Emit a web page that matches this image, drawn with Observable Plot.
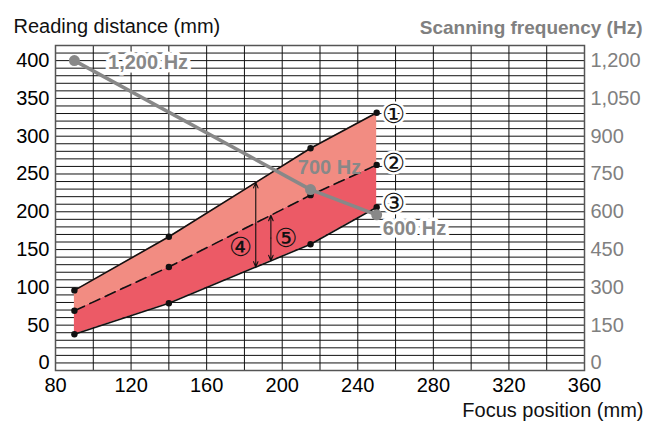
<!DOCTYPE html>
<html>
<head>
<meta charset="utf-8">
<script src="https://cdn.jsdelivr.net/npm/d3@7"></script>
<script src="https://cdn.jsdelivr.net/npm/@observablehq/plot@0.6"></script>
<style>
  html, body { margin: 0; padding: 0; background: #fff; }
</style>
</head>
<body>
<div id="chart"></div>
<script>
// ---- data ----
const focusX = [90, 140, 215, 250];          // focus position (mm)
const curve1 = [96, 167, 284, 331];          // ① upper limit (mm)
const curve2 = [69, 127, 222, 262];          // ② dashed middle (mm)
const curve3 = [38, 79, 157, 206];           // ③ lower limit (mm)
const freqX  = [90, 215, 250];               // focus position of frequency points
const freqHz = [1200, 688, 588];             // scanning frequency (Hz)
const xTicks = [80, 120, 160, 200, 240, 280, 320, 360];
const yTicks = [0, 50, 100, 150, 200, 250, 300, 350, 400];
const freqTicks = [0, 150, 300, 450, 600, 750, 900, 1050, 1200];
const freqLabels = ["1,200 Hz", "700 Hz", "600 Hz"];
const freqLabelX = [129, 225, 270];
const freqLabelY = [397, 258, 178];
const circleLabels = ["①", "②", "③", "④", "⑤"];
const circleX = [259, 259, 259, 178, 202];
const circleY = [329, 264, 211, 153, 164];
const arrowX = [186, 194];                   // ④ spans ③..①, ⑤ spans ③..②

const FREQ_RATIO = 3; // 1,200 Hz on the right axis sits at 400 mm on the left axis

const rows = focusX.map((x, i) => ({x, c1: curve1[i], c2: curve2[i], c3: curve3[i]}));
const freqRows = freqX.map((x, i) => ({x, f: freqHz[i]}));
const i1 = d3.scaleLinear(focusX, curve1);
const i2 = d3.scaleLinear(focusX, curve2);
const i3 = d3.scaleLinear(focusX, curve3);
const spans = [
  {x: arrowX[0], lo: i3(arrowX[0]), hi: i1(arrowX[0])},
  {x: arrowX[1], lo: i3(arrowX[1]), hi: i2(arrowX[1])}
];
// each double-headed arrow = two arrows from its midpoint outward
const halfArrows = spans.flatMap(s => {
  const m = (s.lo + s.hi) / 2;
  return [{x: s.x, from: m, to: s.hi}, {x: s.x, from: m, to: s.lo}];
});
const freqLab = freqLabels.map((t, i) => ({t, x: freqLabelX[i], y: freqLabelY[i]}));
const circ = circleLabels.map((t, i) => ({t, x: circleX[i], y: circleY[i], halo: i < 3}));

const font = "'Liberation Sans', Arial, sans-serif";

const chart = Plot.plot({
  width: 659,
  height: 423,
  marginLeft: 55,
  marginRight: 75,
  marginTop: 45,
  marginBottom: 53,
  style: {fontFamily: font, fontSize: "20px", background: "#fff", color: "#000"},
  x: {domain: [80, 360]},
  y: {domain: [-10, 420]},
  marks: [
    Plot.gridX(d3.range(100, 360, 20), {stroke: "#111", strokeOpacity: 1, strokeWidth: 1}),
    Plot.gridY(d3.range(0, 420, 10), {stroke: "#111", strokeOpacity: 1, strokeWidth: 1}),
    Plot.areaY(rows, {x: "x", y1: "c2", y2: "c1", fill: "#F28C82", fillOpacity: 1}),
    Plot.areaY(rows, {x: "x", y1: "c3", y2: "c2", fill: "#EC5A66", fillOpacity: 1}),
    Plot.frame({stroke: "#555", strokeWidth: 1.5}),
    Plot.lineY(rows, {x: "x", y: "c1", stroke: "#111", strokeWidth: 1.6}),
    Plot.lineY(rows, {x: "x", y: "c2", stroke: "#111", strokeWidth: 1.6, strokeDasharray: "11,6"}),
    Plot.lineY(rows, {x: "x", y: "c3", stroke: "#111", strokeWidth: 1.6}),
    Plot.dot(rows, {x: "x", y: "c1", r: 3.2, fill: "#111"}),
    Plot.dot(rows, {x: "x", y: "c2", r: 3.2, fill: "#111"}),
    Plot.dot(rows, {x: "x", y: "c3", r: 3.2, fill: "#111"}),
    Plot.arrow(halfArrows, {x1: "x", x2: "x", y1: "from", y2: "to", stroke: "#111", strokeWidth: 1.1,
      headLength: 8, headAngle: 45, insetEnd: 0, insetStart: 0}),
    Plot.lineY(freqRows, {x: "x", y: d => d.f / FREQ_RATIO, stroke: "#888", strokeWidth: 3.5}),
    Plot.dot(freqRows, {x: "x", y: d => d.f / FREQ_RATIO, r: 5.5, fill: "#888"}),
    Plot.text(freqLab, {x: "x", y: "y", text: "t", fill: "#888", fontWeight: "bold", fontSize: 20,
      stroke: d => d.t === "700 Hz" ? "none" : "#fff", strokeWidth: 7, paintOrder: "stroke"}),
    Plot.text(circ.filter(d => d.halo), {x: "x", y: "y", text: "t", fill: "#111", fontSize: 26,
      fontFamily: "'DejaVu Sans', sans-serif", stroke: "#fff", strokeWidth: 5, paintOrder: "stroke"}),
    Plot.text(circ.filter(d => !d.halo), {x: "x", y: "y", text: "t", fill: "#111", fontSize: 26,
      fontFamily: "'DejaVu Sans', sans-serif"}),
    Plot.axisX(xTicks, {anchor: "bottom", tickSize: 0, tickPadding: 7, label: null, fontSize: 20}),
    Plot.axisY(yTicks, {anchor: "left", tickSize: 0, tickPadding: 6, label: null, fontSize: 20}),
    Plot.axisY(freqTicks.map(f => f / FREQ_RATIO), {anchor: "right", tickSize: 0, tickPadding: 6, label: null,
      fontSize: 20, fill: "#808080", tickFormat: d => d3.format(",")(Math.round(d * FREQ_RATIO))}),
    Plot.text(["Reading distance (mm)"], {frameAnchor: "top-left", dx: -42, dy: -27, textAnchor: "start", fontSize: 20, fill: "#111"}),
    Plot.text(["Scanning frequency (Hz)"], {frameAnchor: "top-right", dx: 58, dy: -25, textAnchor: "end", fontSize: 19, fontWeight: "bold", fill: "#808080"}),
    Plot.text(["Focus position (mm)"], {frameAnchor: "bottom-right", dx: 59, dy: 46, textAnchor: "end", fontSize: 20, fill: "#111"})
  ]
});
document.getElementById("chart").appendChild(chart);
</script>
</body>
</html>
